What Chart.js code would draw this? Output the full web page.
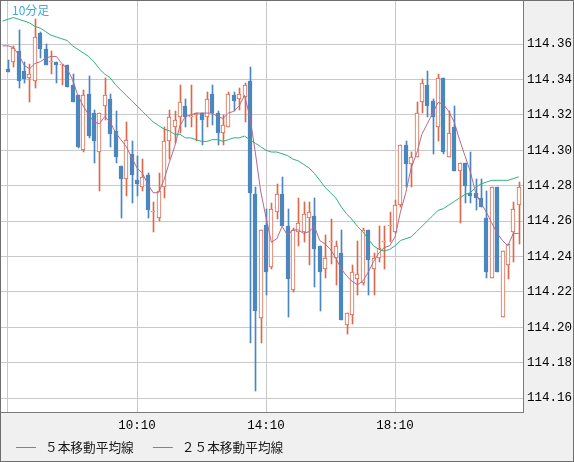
<!DOCTYPE html>
<html>
<head>
<meta charset="utf-8">
<script src="https://cdn.jsdelivr.net/npm/chart.js@4.4.0/dist/chart.umd.min.js"></script>
<style>
  html, body { margin: 0; padding: 0; background: #f0f0f0; }
  canvas { display: block; }
</style>
</head>
<body>
<canvas id="chart" width="574" height="462"></canvas>
<script>
// 10-minute bars, index 0 = 06:10
const opens = [
  114.346, 114.350, 114.356, 114.345, 114.341, 114.339, 114.366, 114.357, 114.350, 114.350,
  114.348, 114.348, 114.337, 114.331, 114.300, 114.332, 114.321, 114.299, 114.325, 114.329,
  114.311, 114.291, 114.284, 114.298, 114.283, 114.279, 114.286, 114.265, 114.262, 114.279,
  114.305, 114.313, 114.319, 114.325, 114.319, 114.320, 114.321, 114.319, 114.332, 114.321,
  114.310, 114.313, 114.331, 114.329, 114.330, 114.339, 114.275, 114.205, 114.258, 114.234,
  114.265, 114.275, 114.257, 114.221, 114.254, 114.254, 114.262, 114.263, 114.246, 114.233,
  114.248, 114.239, 114.242, 114.201, 114.207, 114.227, 114.225, 114.255, 114.233, 114.239,
  114.248, 114.257, 114.254, 114.269, 114.303, 114.292, 114.296, 114.327, 114.337, 114.328,
  114.313, 114.341, 114.296, 114.313, 114.288, 114.293, 114.276, 114.276, 114.273, 114.262,
  114.228, 114.279, 114.206, 114.235, 114.254, 114.269
];
const highs = [
  114.351, 114.359, 114.368, 114.350, 114.349, 114.374, 114.367, 114.360, 114.356, 114.350,
  114.348, 114.348, 114.343, 114.331, 114.334, 114.342, 114.323, 114.321, 114.341, 114.332,
  114.322, 114.291, 114.316, 114.305, 114.297, 114.295, 114.287, 114.271, 114.287, 114.313,
  114.323, 114.322, 114.337, 114.329, 114.337, 114.321, 114.321, 114.333, 114.337, 114.322,
  114.320, 114.333, 114.333, 114.335, 114.338, 114.347, 114.279, 114.255, 114.267, 114.270,
  114.281, 114.285, 114.267, 114.256, 114.273, 114.271, 114.271, 114.273, 114.246, 114.252,
  114.261, 114.249, 114.255, 114.208, 114.235, 114.249, 114.256, 114.255, 114.242, 114.257,
  114.257, 114.265, 114.272, 114.303, 114.305, 114.299, 114.327, 114.340, 114.345, 114.329,
  114.343, 114.341, 114.322, 114.325, 114.293, 114.293, 114.299, 114.284, 114.284, 114.277,
  114.279, 114.279, 114.243, 114.247, 114.271, 114.282
];
const lows = [
  114.344, 114.347, 114.335, 114.338, 114.327, 114.335, 114.352, 114.348, 114.343, 114.338,
  114.337, 114.336, 114.327, 114.301, 114.299, 114.307, 114.293, 114.277, 114.317, 114.302,
  114.293, 114.262, 114.274, 114.270, 114.274, 114.277, 114.262, 114.254, 114.260, 114.273,
  114.295, 114.304, 114.310, 114.313, 114.313, 114.305, 114.303, 114.313, 114.314, 114.303,
  114.303, 114.313, 114.322, 114.323, 114.316, 114.191, 114.164, 114.191, 114.218, 114.233,
  114.261, 114.257, 114.206, 114.220, 114.246, 114.248, 114.235, 114.223, 114.209, 114.228,
  114.236, 114.224, 114.204, 114.196, 114.202, 114.218, 114.224, 114.218, 114.218, 114.237,
  114.233, 114.248, 114.253, 114.268, 114.279, 114.279, 114.296, 114.321, 114.319, 114.298,
  114.305, 114.298, 114.296, 114.288, 114.259, 114.270, 114.270, 114.266, 114.268, 114.228,
  114.228, 114.231, 114.206, 114.227, 114.237, 114.247
];
const closes = [
  114.344, 114.358, 114.339, 114.340, 114.343, 114.364, 114.357, 114.348, 114.350, 114.348,
  114.348, 114.336, 114.327, 114.302, 114.331, 114.308, 114.305, 114.321, 114.331, 114.309,
  114.296, 114.284, 114.306, 114.286, 114.281, 114.285, 114.266, 114.265, 114.277, 114.305,
  114.319, 114.317, 114.327, 114.319, 114.319, 114.321, 114.317, 114.329, 114.321, 114.310,
  114.314, 114.332, 114.328, 114.332, 114.337, 114.276, 114.209, 114.255, 114.231, 114.267,
  114.275, 114.257, 114.227, 114.255, 114.259, 114.264, 114.265, 114.244, 114.231, 114.239,
  114.249, 114.246, 114.204, 114.208, 114.231, 114.230, 114.255, 114.238, 114.239, 114.245,
  114.248, 114.257, 114.269, 114.303, 114.292, 114.296, 114.321, 114.338, 114.325, 114.319,
  114.341, 114.299, 114.310, 114.288, 114.293, 114.280, 114.274, 114.273, 114.268, 114.231,
  114.279, 114.231, 114.243, 114.247, 114.267, 114.279
];

// moving averages, first value belongs to bar -1 (left edge)
const maStart = -1;
const ma5 = [
  114.359, 114.359, 114.358, 114.354, 114.348, 114.346, 114.349, 114.350, 114.352, 114.353, 114.353,
  114.349, 114.346, 114.340, 114.331, 114.325, 114.320, 114.316, 114.315, 114.319, 114.316,
  114.310, 114.306, 114.302, 114.296, 114.290, 114.287, 114.281, 114.276, 114.276, 114.283,
  114.293, 114.302, 114.314, 114.319, 114.320, 114.321, 114.321, 114.321, 114.321, 114.319,
  114.318, 114.321, 114.322, 114.325, 114.331, 114.319, 114.299, 114.277, 114.262, 114.248,
  114.250, 114.257, 114.252, 114.255, 114.255, 114.253, 114.254, 114.257, 114.249, 114.247,
  114.244, 114.239, 114.233, 114.229, 114.226, 114.224, 114.226, 114.231, 114.237, 114.242,
  114.245, 114.246, 114.251, 114.265, 114.276, 114.290, 114.298, 114.309, 114.315, 114.321,
  114.327, 114.326, 114.322, 114.316, 114.306, 114.297, 114.288, 114.276, 114.270, 114.265,
  114.259, 114.253, 114.249, 114.246, 114.253, 114.253
];
const ma25 = [
  114.373, 114.374, 114.375, 114.374, 114.373, 114.372, 114.370, 114.369, 114.367, 114.365, 114.364,
  114.363, 114.362, 114.359, 114.357, 114.355, 114.353, 114.350, 114.346, 114.343, 114.341,
  114.337, 114.334, 114.331, 114.328, 114.325, 114.322, 114.319, 114.316, 114.314, 114.312,
  114.311, 114.309, 114.309, 114.307, 114.307, 114.306, 114.305, 114.305, 114.306, 114.306,
  114.305, 114.306, 114.307, 114.307, 114.308, 114.306, 114.304, 114.302, 114.300, 114.299,
  114.299, 114.298, 114.297, 114.295, 114.294, 114.292, 114.290, 114.287, 114.283, 114.279,
  114.276, 114.273, 114.268, 114.264, 114.261, 114.257, 114.254, 114.250, 114.246, 114.244,
  114.243, 114.244, 114.246, 114.249, 114.250, 114.251, 114.254, 114.257, 114.260, 114.263,
  114.266, 114.267, 114.269, 114.271, 114.273, 114.275, 114.276, 114.279, 114.281, 114.282,
  114.283, 114.283, 114.283, 114.283, 114.284, 114.285
];

const yTicks = [114.16, 114.18, 114.20, 114.22, 114.24, 114.26, 114.28, 114.30, 114.32, 114.34, 114.36];
const tickBars = [0, 24, 48, 72];
const tickLabels = ['', '10:10', '14:10', '18:10'];

const UP = '#dc694b';
const DOWN = '#4b87bf';
const MA5_COLOR = '#b5698f';
const MA25_COLOR = '#2db27c';
const GRID = '#c9c9c9';
const EDGE = '#7a7a7a';

const isUp = closes.map((c, i) => c >= opens[i]);
const bodies = opens.map((o, i) => ({ x: i, y: [o, closes[i]] }));
const wicks = lows.map((l, i) => ({ x: i, y: [l, highs[i]] }));
const ma5Points = ma5.map((v, i) => ({ x: i + maStart, y: v }));
const ma25Points = ma25.map((v, i) => ({ x: i + maStart, y: v }));

// snap candle rects to whole pixels so they stay sharp like the original
const crispPlugin = {
  id: 'crisp',
  afterDatasetsUpdate(chart) {
    chart.data.datasets.forEach((d, di) => {
      if (d.type === 'line') return;
      const wick = d.label === 'wick';
      chart.getDatasetMeta(di).data.forEach(el => {
        el.x = Math.round(el.x) + (wick ? 0.5 : 0);
        el.y = Math.round(el.y);
        el.base = Math.round(el.base);
        if (Math.abs(el.base - el.y) < 1) el.base = el.y + 1;
      });
    });
  }
};

// background, frame, corner caption and the legend row
const framePlugin = {
  id: 'frame',
  beforeDraw(chart) {
    const { ctx, chartArea: a, width, height } = chart;
    ctx.save();
    ctx.fillStyle = '#f0f0f0';
    ctx.fillRect(0, 0, width, height);
    ctx.fillStyle = '#ffffff';
    ctx.fillRect(a.left, a.top, a.right - a.left, a.bottom - a.top);
    ctx.restore();
  },
  afterDraw(chart) {
    const { ctx, width, height } = chart;
    ctx.save();
    ctx.fillStyle = '#3fa8e4';
    ctx.font = "12px 'Noto Sans CJK JP'";
    ctx.textBaseline = 'alphabetic';
    ctx.fillText('10分足', 12, 15);

    // legend
    ctx.font = "12.7px 'Noto Sans CJK JP'";
    ctx.textBaseline = 'middle';
    const ly = 447.5;
    let x = 16;
    chart.data.datasets.filter(d => d.type === 'line').forEach(d => {
      ctx.strokeStyle = d.borderColor;
      ctx.lineWidth = 1;
      ctx.beginPath();
      ctx.moveTo(x, ly);
      ctx.lineTo(x + 20, ly);
      ctx.stroke();
      ctx.fillStyle = '#1a1a1a';
      ctx.fillText(d.label, x + 29, ly);
      x += 29 + ctx.measureText(d.label).width + 19;
    });

    ctx.strokeStyle = '#6e6e6e';
    ctx.lineWidth = 1;
    ctx.strokeRect(0.5, 0.5, width - 1, height - 1);
    ctx.restore();
  }
};

Chart.defaults.font.family = "'Liberation Mono', 'DejaVu Sans Mono', monospace";
Chart.defaults.color = '#000';

new Chart(document.getElementById('chart'), {
  type: 'bar',
  data: {
    datasets: [
      {
        type: 'line',
        label: '５本移動平均線',
        data: ma5Points,
        borderColor: MA5_COLOR,
        borderWidth: 1,
        pointRadius: 0,
        tension: 0,
        order: 0,
        clip: 0
      },
      {
        type: 'line',
        label: '２５本移動平均線',
        data: ma25Points,
        borderColor: MA25_COLOR,
        borderWidth: 1,
        pointRadius: 0,
        tension: 0,
        order: 0,
        clip: 0
      },
      {
        label: 'body',
        data: bodies,
        backgroundColor: isUp.map(u => (u ? '#ffffff' : DOWN)),
        borderColor: isUp.map(u => (u ? UP : DOWN)),
        borderWidth: 1,
        borderSkipped: false,
        barThickness: 4,
        minBarLength: 1,
        grouped: false,
        order: 1,
        clip: 0
      },
      {
        label: 'wick',
        data: wicks,
        backgroundColor: isUp.map(u => (u ? UP : DOWN)),
        borderWidth: 0,
        barThickness: 1,
        minBarLength: 1,
        grouped: false,
        order: 2,
        clip: 0
      }
    ]
  },
  options: {
    responsive: false,
    animation: false,
    devicePixelRatio: 1,
    layout: { padding: { left: 0, top: 0, right: 0, bottom: 28 } },
    plugins: {
      legend: { display: false },
      tooltip: { enabled: false }
    },
    scales: {
      x: {
        type: 'linear',
        min: -1.488,
        max: 95.81,
        offset: false,
        grid: { color: GRID, lineWidth: 1, drawTicks: false, offset: false },
        border: { display: true, color: EDGE, width: 1 },
        ticks: {
          padding: 6,
          maxRotation: 0,
          font: { size: 12.5 },
          callback: (value, index) => tickLabels[index]
        },
        afterBuildTicks: (scale) => {
          scale.ticks = tickBars.map(v => ({ value: v }));
        },
        afterFit: (scale) => {
          scale.height = 22;
          scale.paddingLeft = 0;
          scale.paddingRight = 0;
        }
      },
      y: {
        type: 'linear',
        position: 'right',
        min: 114.1521,
        max: 114.3849,
        grid: { color: GRID, lineWidth: 1, drawTicks: false },
        border: { display: true, color: EDGE, width: 1 },
        ticks: {
          padding: 4,
          font: { size: 12.5 },
          callback: (value) => Number(value).toFixed(2)
        },
        afterBuildTicks: (scale) => {
          scale.ticks = yTicks.map(v => ({ value: v }));
        },
        afterFit: (scale) => {
          scale.width = 51;
          scale.paddingTop = 0;
          scale.paddingBottom = 0;
        }
      }
    }
  },
  plugins: [crispPlugin, framePlugin]
});
</script>
</body>
</html>
